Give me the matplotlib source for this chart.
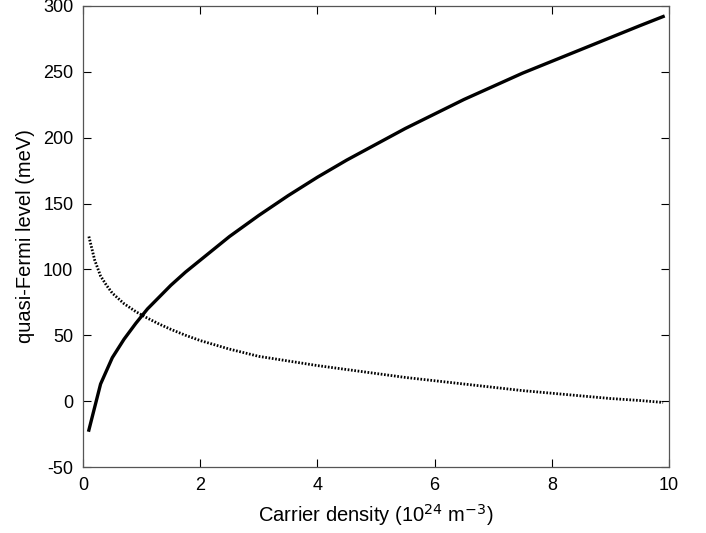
import matplotlib
matplotlib.use("Agg")
import matplotlib.pyplot as plt

plt.rcParams['font.family'] = ['Liberation Sans', 'DejaVu Sans']

density_solid = [0.1, 0.3, 0.5, 0.7, 0.9, 1.1, 1.3, 1.5, 1.75, 2.0, 2.5, 3.0, 3.5, 4.0, 4.5,
                 5.0, 5.5, 6.0, 6.5, 7.0, 7.5, 8.0, 8.5, 9.0, 9.5, 9.9]
fermi_solid = [-22, 13, 33, 47, 59, 70, 79, 88, 98, 107, 125, 141, 156, 170, 183,
               195, 207, 218, 229, 239, 249, 258, 267, 276, 285, 292]

density_dotted = [0.1, 0.2, 0.3, 0.4, 0.5, 0.7, 0.9, 1.1, 1.3, 1.5, 1.75, 2.0, 2.5, 3.0, 3.5,
                  4.0, 4.5, 5.0, 5.5, 6.0, 6.5, 7.0, 7.5, 8.0, 8.5, 9.0, 9.5, 9.9]
fermi_dotted = [125, 107, 95, 88, 82, 74, 68, 63, 58.5, 54.5, 50, 46, 39.5, 34, 30.5,
                27, 24, 21, 18, 15.5, 13, 10.5, 8, 6, 4, 2, 0.5, -1]

xticks = [0, 2, 4, 6, 8, 10]
yticks = [-50, 0, 50, 100, 150, 200, 250, 300]
ytick_labels = ['-50', '0', '50', '100', '150', '200', '250', '300']

fig = plt.figure(figsize=(7.06, 5.33), dpi=100)
ax = fig.add_axes([83/706, 66/533, 586/706, 461/533])

ax.plot(density_solid, fermi_solid, color='black', lw=2.4, solid_joinstyle='round')
ax.plot(density_dotted, fermi_dotted, color='black', lw=2.0, linestyle=(0, (0.6, 0.6)))

ax.set_xlim(0, 10)
ax.set_ylim(-50, 300)
ax.set_xticks(xticks)
ax.set_yticks(yticks)
ax.set_yticklabels(ytick_labels)
ax.tick_params(direction='in', top=True, right=True, length=6, width=0.8, labelsize=13, pad=7)
for s in ax.spines.values():
    s.set_linewidth(0.9)
    s.set_color('#555555')

ax.set_xlabel('Carrier density (10$^{24}$ m$^{-3}$)', fontsize=14.5, labelpad=6)
ax.set_ylabel('quasi-Fermi level (meV)', fontsize=14.5, labelpad=6)

fig.savefig('out.png', dpi=100)
